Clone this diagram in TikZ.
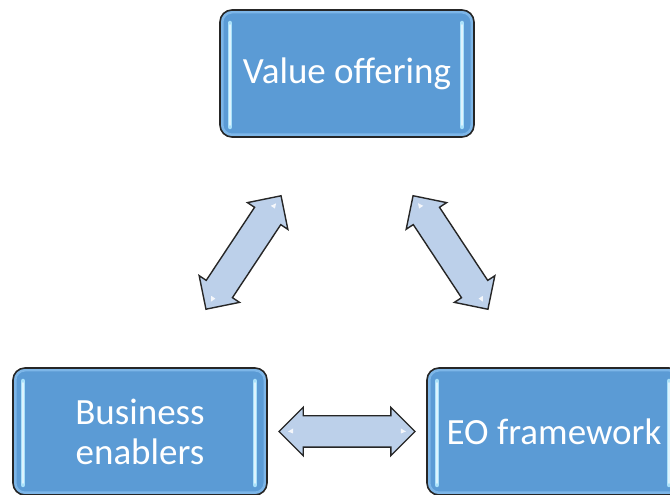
\documentclass[tikz,border=0pt]{standalone}
\usepackage{fontspec}
\setmainfont{Carlito}
\usepackage{tikz}
\usetikzlibrary{shapes.arrows, positioning, calc}
\definecolor{boxblue}{RGB}{91,155,213}
\definecolor{boxglow}{RGB}{125,182,232}
\definecolor{barcol}{RGB}{170,225,250}
\definecolor{arrowfill}{RGB}{188,208,234}

\tikzset{
  block/.style={rounded corners=12pt, fill=boxblue, draw=black!85, line width=1.6pt,
    minimum width=254pt, minimum height=127pt, inner sep=0pt,
    text=white, align=center, font=\fontsize{37}{40}\selectfont,
    path picture={
      \draw[boxglow, line width=3pt, rounded corners=10pt]
        ([shift={(2pt,2pt)}]path picture bounding box.south west) rectangle
        ([shift={(-2pt,-2pt)}]path picture bounding box.north east);
      \draw[barcol, line width=4.5pt, line cap=round]
        ([shift={(10pt,10pt)}]path picture bounding box.south west) --
        ([shift={(10pt,-13pt)}]path picture bounding box.north west);
      \draw[barcol, line width=4.5pt, line cap=round]
        ([shift={(-12pt,10pt)}]path picture bounding box.south east) --
        ([shift={(-12pt,-13pt)}]path picture bounding box.north east);
      \draw[white!60!barcol, line width=1.8pt, line cap=round]
        ([shift={(10pt,12pt)}]path picture bounding box.south west) --
        ([shift={(10pt,-15pt)}]path picture bounding box.north west);
      \draw[white!60!barcol, line width=1.8pt, line cap=round]
        ([shift={(-12pt,12pt)}]path picture bounding box.south east) --
        ([shift={(-12pt,-15pt)}]path picture bounding box.north east);
    }},
  link/.style={double arrow, draw=black!85, line width=1.4pt, fill=arrowfill,
    minimum height=136pt, inner xsep=0pt, inner ysep=15pt,
    double arrow head extend=8.5pt},
  glint/.style={fill=white, opacity=0.85}
}

\begin{document}
\begin{tikzpicture}[x=1pt, y=1pt]
\useasboundingbox (0,0) rectangle (670,495);
\begin{scope}
\clip (0,0) rectangle (670,495);
% the three boxes
\node[block] (vo) at (347,421.5) {Value offering};
\node[block] (be) at (140,63.5) {Business\\enablers};
\node[block] (eo) at (554,63.5) {EO framework};

% block arrows halfway between the boxes
\node[link, rotate=56.5] (a1) at ($(vo)!0.5!(be)$) {};
\node[link, rotate=-56.6] (a2) at ($(vo)!0.5!(eo)$) {};
\node[link] (a3) at ($(be)!0.5!(eo)$) {};

% small highlights near the arrow tips
\foreach \a in {a1,a2,a3} {
  \coordinate (g1) at ($(\a.tip 1)!15pt!(\a.tip 2)$);
  \coordinate (g2) at ($(\a.tip 2)!15pt!(\a.tip 1)$);
  \fill[glint] ($(g1)!3pt!90:(\a.tip 1)$) -- ($(g1)!5pt!(\a.tip 1)$) -- ($(g1)!2pt!-90:(\a.tip 1)$) -- cycle;
  \fill[glint] ($(g2)!3pt!-90:(\a.tip 2)$) -- ($(g2)!5pt!(\a.tip 2)$) -- ($(g2)!2pt!90:(\a.tip 2)$) -- cycle;
}
\end{scope}
\end{tikzpicture}
\end{document}
